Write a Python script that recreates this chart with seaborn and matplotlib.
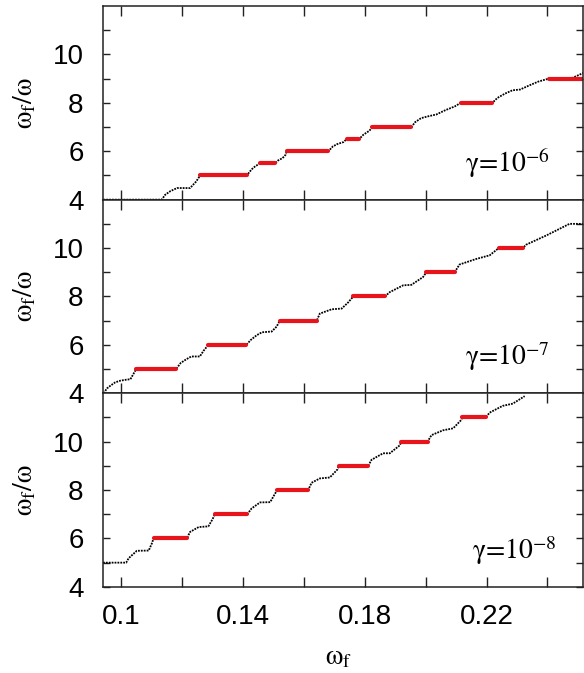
import matplotlib
matplotlib.use("Agg")
import matplotlib.pyplot as plt
from matplotlib.ticker import FixedLocator
import numpy as np
import pandas as pd
import seaborn as sns

# ---------------- data ----------------
gamma_exponents = ["-6", "-7", "-8"]

# panel 1 : gamma = 1e-6  (black staircase)
p1_x = [0.0941, 0.1133, 0.1144, 0.1161, 0.1183, 0.1226, 0.1246, 0.1259,
        0.1412, 0.1428, 0.1440, 0.1456, 0.1505, 0.1515, 0.1530, 0.1540, 0.1543,
        0.1680, 0.1695, 0.1710, 0.1730, 0.1740, 0.1781, 0.1795, 0.1815, 0.1825,
        0.1953, 0.1965, 0.1985, 0.2010, 0.2035, 0.2065, 0.2095, 0.2115,
        0.2219, 0.2235, 0.2260, 0.2285, 0.2310, 0.2340, 0.2370, 0.2404,
        0.2480, 0.2520]
p1_y = [4.00, 4.00, 4.20, 4.35, 4.48, 4.48, 4.75, 5.00,
        5.00, 5.25, 5.38, 5.50, 5.50, 5.62, 5.72, 5.86, 6.00,
        6.00, 6.20, 6.30, 6.38, 6.50, 6.50, 6.68, 6.85, 7.00,
        7.00, 7.20, 7.37, 7.45, 7.52, 7.70, 7.85, 8.00,
        8.00, 8.20, 8.38, 8.52, 8.55, 8.72, 8.88, 9.00,
        9.02, 9.25]
p1_plat_start = [0.1259, 0.1456, 0.1543, 0.1740, 0.1825, 0.2115, 0.2404]
p1_plat_end = [0.1412, 0.1505, 0.1680, 0.1781, 0.1953, 0.2219, 0.2518]
p1_plat_level = [5.0, 5.5, 6.0, 6.5, 7.0, 8.0, 9.0]

# panel 2 : gamma = 1e-7
p2_x = [0.0942, 0.0953, 0.0964, 0.0980, 0.0997, 0.1016, 0.1030, 0.1040, 0.1049,
        0.1180, 0.1195, 0.1213, 0.1230, 0.1258, 0.1270, 0.1286,
        0.1411, 0.1425, 0.1445, 0.1462, 0.1494, 0.1510, 0.1521,
        0.1642, 0.1652, 0.1691, 0.1724, 0.1745, 0.1762,
        0.1866, 0.1882, 0.1926, 0.1953, 0.1991, 0.2002,
        0.2095, 0.2111, 0.2166, 0.2210, 0.2232, 0.2240,
        0.2319, 0.2330, 0.2396, 0.2461, 0.2472, 0.2518]
p2_y = [4.00, 4.20, 4.31, 4.45, 4.52, 4.56, 4.58, 4.80, 5.00,
        5.00, 5.25, 5.40, 5.52, 5.52, 5.75, 6.00,
        6.00, 6.20, 6.40, 6.52, 6.55, 6.75, 7.00,
        7.00, 7.29, 7.47, 7.50, 7.75, 8.00,
        8.00, 8.18, 8.46, 8.48, 8.80, 9.00,
        9.00, 9.32, 9.55, 9.70, 9.92, 10.00,
        10.00, 10.14, 10.52, 10.93, 11.00, 11.00]
p2_plat_start = [0.1049, 0.1286, 0.1521, 0.1762, 0.2002, 0.2240]
p2_plat_end = [0.1180, 0.1411, 0.1642, 0.1866, 0.2095, 0.2319]
p2_plat_level = [5.0, 6.0, 7.0, 8.0, 9.0, 10.0]

# panel 3 : gamma = 1e-8
p3_x = [0.0940, 0.1016, 0.1024, 0.1051, 0.1090, 0.1100, 0.1106,
        0.1215, 0.1226, 0.1254, 0.1286, 0.1300, 0.1307,
        0.1414, 0.1428, 0.1456, 0.1489, 0.1505, 0.1512,
        0.1614, 0.1625, 0.1652, 0.1685, 0.1710, 0.1715,
        0.1811, 0.1822, 0.1860, 0.1882, 0.1915, 0.1920,
        0.2006, 0.2019, 0.2057, 0.2090, 0.2117, 0.2120,
        0.2197, 0.2210, 0.2253, 0.2286, 0.2325]
p3_y = [5.00, 5.00, 5.18, 5.49, 5.50, 5.78, 6.00,
        6.00, 6.27, 6.47, 6.50, 6.80, 7.00,
        7.00, 7.24, 7.49, 7.50, 7.85, 8.00,
        8.00, 8.30, 8.48, 8.52, 8.85, 9.00,
        9.00, 9.25, 9.52, 9.52, 9.85, 10.00,
        10.00, 10.27, 10.47, 10.55, 10.90, 11.00,
        11.00, 11.20, 11.48, 11.57, 11.88]
p3_plat_start = [0.1106, 0.1307, 0.1512, 0.1715, 0.1920, 0.2120]
p3_plat_end = [0.1215, 0.1414, 0.1614, 0.1811, 0.2006, 0.2197]
p3_plat_level = [6.0, 7.0, 8.0, 9.0, 10.0, 11.0]

x_ticks = [0.10, 0.14, 0.18, 0.22]
x_tick_labels = ["0.1", "0.14", "0.18", "0.22"]
y_ticks = [4, 6, 8, 10]
y_tick_labels = ["4", "6", "8", "10"]

panels = [
    (p1_x, p1_y, p1_plat_start, p1_plat_end, p1_plat_level),
    (p2_x, p2_y, p2_plat_start, p2_plat_end, p2_plat_level),
    (p3_x, p3_y, p3_plat_start, p3_plat_end, p3_plat_level),
]
label_x = [0.2128, 0.2128, 0.2152]

# ---------------- style ----------------
sns.set_theme(style="ticks")
plt.rcParams["font.family"] = ["Liberation Sans", "DejaVu Sans"]
plt.rcParams["mathtext.fontset"] = "stix"
plt.rcParams["axes.linewidth"] = 1.1
for key in ["text.color", "axes.labelcolor", "xtick.labelcolor", "ytick.labelcolor"]:
    plt.rcParams[key] = "black"

SERIF = ["STIXGeneral", "Liberation Serif", "DejaVu Serif"]

fig, axes = plt.subplots(3, 1, figsize=(5.84, 6.73), dpi=100, sharex=True,
                         gridspec_kw=dict(hspace=0))
fig.subplots_adjust(left=0.1764, right=0.999, top=0.991, bottom=0.128)

for i, (ax, (bx, by, ps, pe, pl)) in enumerate(zip(axes, panels)):
    df_black = pd.DataFrame({"x": bx, "y": by})
    sns.lineplot(data=df_black, x="x", y="y", ax=ax, sort=False, estimator=None,
                 color="black", lw=1.3, linestyle=(0, (1.0, 0.6)))
    seg_x, seg_y, seg_id = [], [], []
    for k, (s, e, lev) in enumerate(zip(ps, pe, pl)):
        seg_x += [s, e]
        seg_y += [lev, lev]
        seg_id += [k, k]
    df_red = pd.DataFrame({"x": seg_x, "y": seg_y, "seg": seg_id})
    sns.lineplot(data=df_red, x="x", y="y", units="seg", estimator=None, ax=ax,
                 sort=False, color="#e8141c", lw=3.0)

    ax.set_xlim(0.094, 0.2518)
    ax.set_ylim(4, 12)
    ax.yaxis.set_major_locator(FixedLocator(y_ticks))
    ax.set_yticklabels(y_tick_labels)
    ax.yaxis.set_minor_locator(FixedLocator([5, 7, 9, 11]))
    ax.xaxis.set_major_locator(FixedLocator(x_ticks))
    ax.xaxis.set_minor_locator(FixedLocator([0.12, 0.16, 0.20, 0.24]))
    ax.tick_params(axis="both", which="both", direction="in", top=True,
                   right=True, color="#222222", width=1.0)
    ax.tick_params(axis="x", which="both", length=7.5)
    ax.tick_params(axis="y", which="both", length=5)
    ax.tick_params(axis="y", labelsize=20, pad=14)
    ax.tick_params(axis="x", labelsize=20, pad=12)
    for sp in ax.spines.values():
        sp.set_color("#222222")
    ax.set_ylabel(r"ω$_{\rm f}$/ω", fontsize=20, family=SERIF)
    ax.yaxis.set_label_coords(-0.135, 0.5)
    ax.set_xlabel("")
    ax.text(label_x[i], 5.16, r"γ=10$^{" + gamma_exponents[i] + "}$",
            fontsize=20, family=SERIF, va="baseline", ha="left")

axes[2].set_xticklabels(x_tick_labels)
axes[2].set_xlabel(r"ω$_{\rm f}$", fontsize=20, family=SERIF)
axes[2].xaxis.set_label_coords(0.49, -0.30)

fig.savefig("out.png", dpi=100)
